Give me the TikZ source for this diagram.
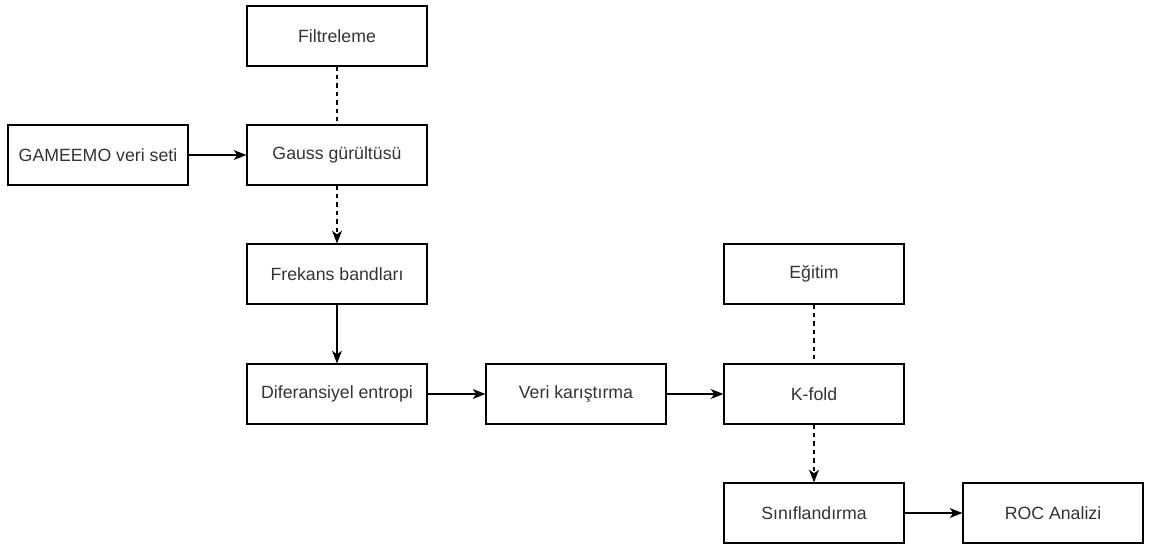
\documentclass[tikz,border=0pt]{standalone}
\usepackage{fontspec}
\setmainfont{Liberation Sans}
\usetikzlibrary{arrows.meta}

\begin{document}
\begin{tikzpicture}[x=0.025cm, y=-0.025cm,
    box/.style={shape=rectangle, draw, line width=0.8pt, minimum width=4.5cm, minimum height=1.5cm,
      inner sep=0pt, text=black!80, font=\fontsize{12.6}{15}\selectfont},
    flow/.style={line width=0.8pt, -{Stealth[length=9pt, width=7pt, inset=2.5pt]}},
    link/.style={line width=0.8pt, dashed}]
    \useasboundingbox (0,0) rectangle (1154,545);

    \node[box] (filter) at (337,36) {Filtreleme};
    \node[box] (data) at (98,155) {GAMEEMO veri seti};
    \node[box] (gauss) at (337,155) {Gauss gürültüsü};
    \node[box] (bands) at (337,274) {Frekans bandları};
    \node[box] (entropy) at (337,394) {Diferansiyel entropi};
    \node[box] (shuffle) at (576,394) {Veri karıştırma};
    \node[box] (train) at (814,274) {Eğitim};
    \node[box] (kfold) at (814,394) {K-fold};
    \node[box] (classify) at (814,513) {Sınıflandırma};
    \node[box] (roc) at (1053,513) {ROC Analizi};

    \draw[link] (filter) -- (gauss);
    \draw[flow] (data) -- (gauss);
    \draw[flow, dashed] (gauss) -- (bands);
    \draw[flow] (bands) -- (entropy);
    \draw[flow] (entropy) -- (shuffle);
    \draw[flow] (shuffle) -- (kfold);
    \draw[link] (train) -- (kfold);
    \draw[flow, dashed] (kfold) -- (classify);
    \draw[flow] (classify) -- (roc);
\end{tikzpicture}
\end{document}
